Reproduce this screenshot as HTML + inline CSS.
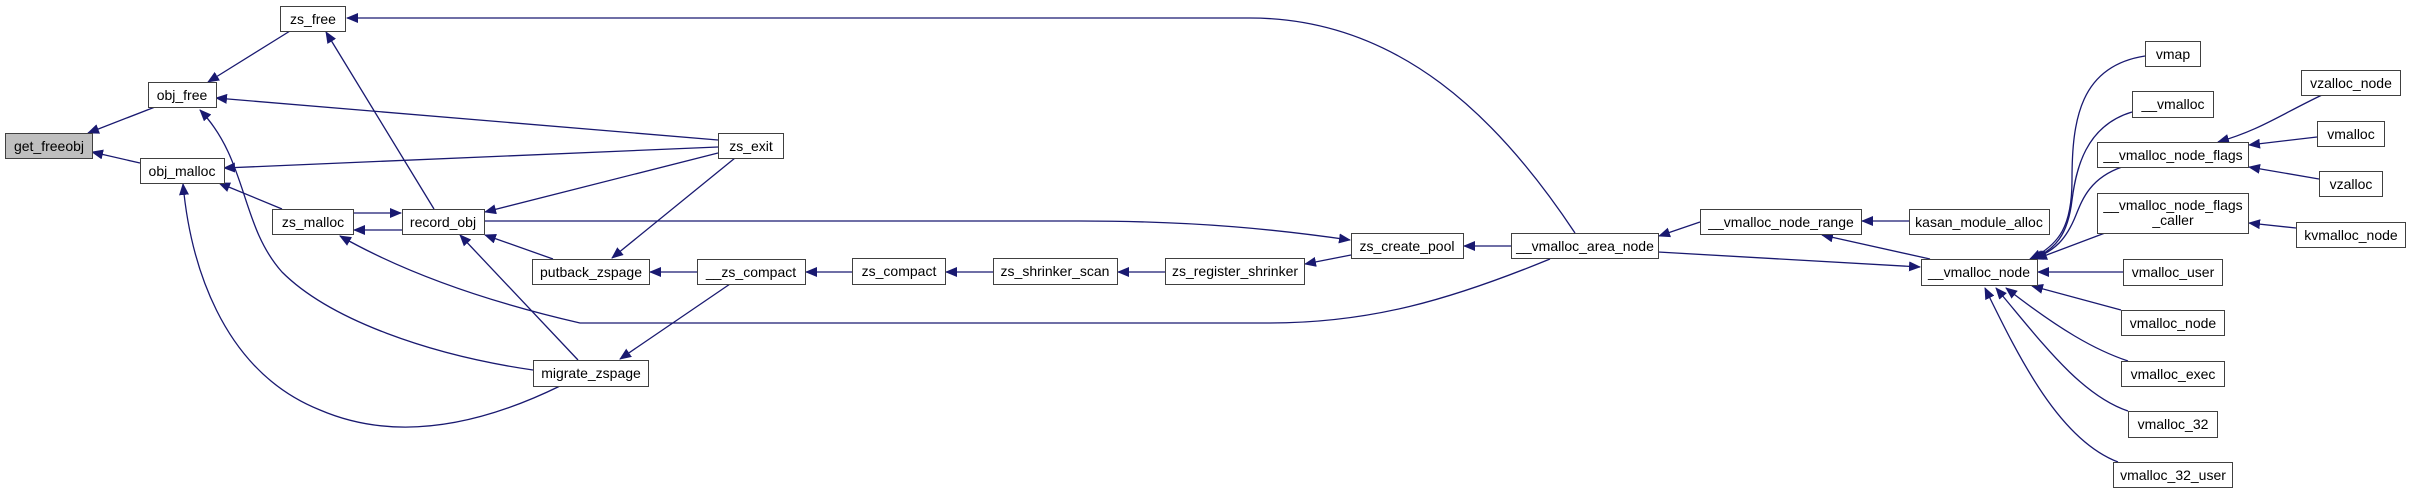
<!DOCTYPE html>
<html><head><meta charset="utf-8"><style>
html,body{margin:0;padding:0;background:#fff;}
svg{display:block;}
text{font-family:"Liberation Sans",sans-serif;font-size:14px;fill:#000;}
</style></head><body>
<svg width="2411" height="493" viewBox="0 0 2411 493" xmlns="http://www.w3.org/2000/svg">
<defs>
<marker id="a" markerUnits="userSpaceOnUse" markerWidth="12" markerHeight="10" refX="11" refY="5" orient="auto">
<polygon points="0,0 12,5 0,10" fill="#191970"/>
</marker>
</defs>
<g fill="none" stroke="#191970" stroke-width="1.3" marker-end="url(#a)">
<path d="M155,107 L88,133"/>
<path d="M140,163 L92,152"/>
<path d="M290,31 L208,82"/>
<path d="M718,140 L216,98"/>
<path d="M533,370 C430,355 330,320 282,272 C240,225 248,160 200,110"/>
<path d="M434,209 L326,32"/>
<path d="M1575,233 C1500,120 1400,18 1250,18 L347,18"/>
<path d="M718,147 L224,168"/>
<path d="M282,209 L219,183"/>
<path d="M560,386 C470,430 390,440 320,410 C220,370 190,260 183,184"/>
<path d="M353,213 L401,213"/>
<path d="M402,230 L354,230"/>
<path d="M1550,259 C1450,300 1370,323 1270,323 L580,323 C480,300 400,270 340,236"/>
<path d="M718,153 L485,212"/>
<path d="M553,259 L485,235"/>
<path d="M578,360 L460,235"/>
<path d="M484,221 L1080,221 C1200,221 1280,230 1350,240"/>
<path d="M735,158 L612,258"/>
<path d="M697,272 L650,272"/>
<path d="M730,284 L620,359"/>
<path d="M852,272 L806,272"/>
<path d="M993,272 L946,272"/>
<path d="M1165,272 L1118,272"/>
<path d="M1351,255 L1305,264"/>
<path d="M1511,246 L1464,246"/>
<path d="M1700,222 L1659,236"/>
<path d="M1658,252 L1920,267"/>
<path d="M1930,259 L1822,235"/>
<path d="M1909,221 L1862,221"/>
<path d="M2145,56 C2080,66 2072,120 2072,180 C2072,225 2060,245 2030,259"/>
<path d="M2132,112 C2085,126 2076,170 2072,200 C2068,235 2055,250 2032,259"/>
<path d="M2122,167 C2090,178 2082,200 2076,215 C2066,240 2055,250 2034,259"/>
<path d="M2105,233 L2036,259"/>
<path d="M2123,272 L2038,272"/>
<path d="M2121,310 L2032,286"/>
<path d="M2128,361 C2095,350 2060,330 2006,288"/>
<path d="M2128,411 C2080,395 2040,340 1996,288"/>
<path d="M2118,462 C2060,440 2020,360 1985,288"/>
<path d="M2322,95 C2280,115 2260,130 2218,142"/>
<path d="M2317,137 L2249,145"/>
<path d="M2319,179 L2249,167"/>
<path d="M2296,228 L2249,223"/>
</g>
<g stroke="#404040" stroke-width="1" fill="#fff">
<rect x="5.5" y="133.5" width="87" height="25" fill="#bfbfbf"/>
<rect x="148.5" y="82.5" width="68" height="25"/>
<rect x="140.5" y="158.5" width="84" height="25"/>
<rect x="280.5" y="6.5" width="65" height="25"/>
<rect x="272.5" y="209.5" width="81" height="25"/>
<rect x="402.5" y="209.5" width="82" height="25"/>
<rect x="718.5" y="133.5" width="65" height="25"/>
<rect x="532.5" y="259.5" width="117" height="25"/>
<rect x="533.5" y="360.5" width="115" height="26"/>
<rect x="697.5" y="259.5" width="108" height="25"/>
<rect x="852.5" y="258.5" width="93" height="26"/>
<rect x="993.5" y="258.5" width="124" height="26"/>
<rect x="1165.5" y="258.5" width="139" height="26"/>
<rect x="1351.5" y="233.5" width="112" height="25"/>
<rect x="1511.5" y="233.5" width="147" height="25"/>
<rect x="1700.5" y="209.5" width="161" height="25"/>
<rect x="1909.5" y="209.5" width="140" height="25"/>
<rect x="1921.5" y="259.5" width="116" height="26"/>
<rect x="2145.5" y="41.5" width="55" height="25"/>
<rect x="2132.5" y="91.5" width="81" height="26"/>
<rect x="2097.5" y="142.5" width="151" height="25"/>
<rect x="2097.5" y="193.5" width="151" height="40"/>
<rect x="2123.5" y="259.5" width="99" height="26"/>
<rect x="2121.5" y="310.5" width="103" height="25"/>
<rect x="2121.5" y="361.5" width="103" height="25"/>
<rect x="2128.5" y="411.5" width="89" height="26"/>
<rect x="2113.5" y="462.5" width="119" height="25"/>
<rect x="2301.5" y="70.5" width="99" height="25"/>
<rect x="2317.5" y="121.5" width="67" height="25"/>
<rect x="2319.5" y="171.5" width="63" height="25"/>
<rect x="2296.5" y="222.5" width="109" height="25"/>
</g>
<g text-anchor="middle">
<text x="49" y="151">get_freeobj</text>
<text x="182" y="100">obj_free</text>
<text x="182" y="176">obj_malloc</text>
<text x="313" y="24">zs_free</text>
<text x="313" y="227">zs_malloc</text>
<text x="443" y="227">record_obj</text>
<text x="751" y="151">zs_exit</text>
<text x="591" y="277">putback_zspage</text>
<text x="591" y="378">migrate_zspage</text>
<text x="751" y="277">__zs_compact</text>
<text x="899" y="276">zs_compact</text>
<text x="1055" y="276">zs_shrinker_scan</text>
<text x="1235" y="276">zs_register_shrinker</text>
<text x="1407" y="251">zs_create_pool</text>
<text x="1585" y="251">__vmalloc_area_node</text>
<text x="1781" y="227">__vmalloc_node_range</text>
<text x="1979" y="227">kasan_module_alloc</text>
<text x="1979" y="277">__vmalloc_node</text>
<text x="2173" y="59">vmap</text>
<text x="2173" y="109">__vmalloc</text>
<text x="2173" y="160">__vmalloc_node_flags</text>
<text x="2173" y="210">__vmalloc_node_flags</text>
<text x="2173" y="225">_caller</text>
<text x="2173" y="277">vmalloc_user</text>
<text x="2173" y="328">vmalloc_node</text>
<text x="2173" y="379">vmalloc_exec</text>
<text x="2173" y="429">vmalloc_32</text>
<text x="2173" y="480">vmalloc_32_user</text>
<text x="2351" y="88">vzalloc_node</text>
<text x="2351" y="139">vmalloc</text>
<text x="2351" y="189">vzalloc</text>
<text x="2351" y="240">kvmalloc_node</text>
</g>
</svg>
</body></html>
